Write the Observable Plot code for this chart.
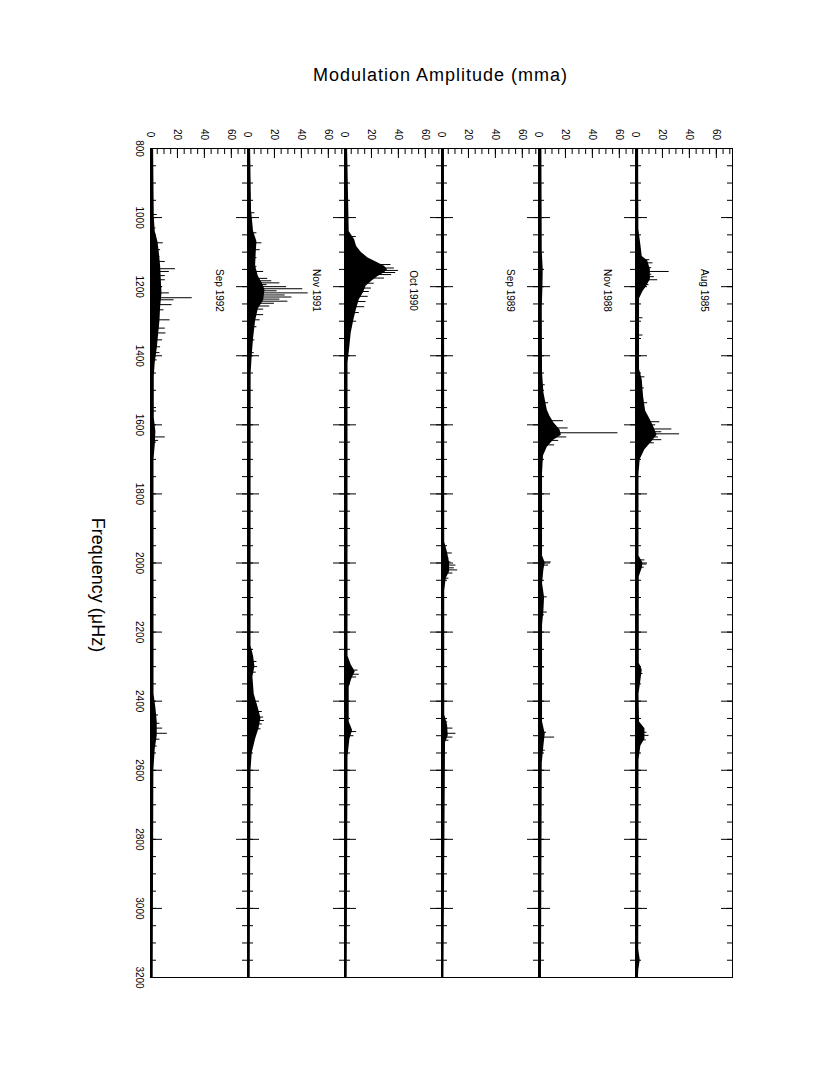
<!DOCTYPE html>
<html><head><meta charset="utf-8">
<script src="https://cdn.jsdelivr.net/npm/d3@7"></script>
<script src="https://cdn.jsdelivr.net/npm/@observablehq/plot@0.6"></script>
<style>
body{margin:0;background:#fff;font-family:"Liberation Sans",Arial,sans-serif;}
#title{height:100px;width:585px;margin-left:148px;box-sizing:border-box;padding-top:64px;text-align:center;font-size:18px;letter-spacing:1px;line-height:22px;color:#000;}
#chart svg{display:block;}
</style></head><body>
<div id="title">Modulation Amplitude (mma)</div>
<div id="chart"></div>
<script>
// Panels, left to right
const panels = ["Sep 1992", "Nov 1991", "Oct 1990", "Sep 1989", "Nov 1988", "Aug 1985"];

// Frequency ticks (μHz) and amplitude ticks (mma)
const freqTicks = [800, 1000, 1200, 1400, 1600, 1800, 2000, 2200, 2400, 2600, 2800, 3000, 3200];
const ampTicks = [0, 20, 40, 60];

// Each panel: dense envelope [frequency μHz, amplitude mma] and individual spikes
const envSep1992 = [[800,2.3],[1000,2.8],[1040,3.5],[1070,5.5],[1100,6.5],[1140,7.5],[1180,8],[1220,8.5],[1260,7.5],[1300,7],[1340,6],[1380,5],[1420,3.5],[1460,2.8],[1580,2.8],[1620,4],[1660,3.5],[1700,2.6],[2380,2.6],[2420,4],[2460,5],[2500,5],[2540,3.5],[2600,2.5],[3200,2.0]];
const spkSep1992 = [[991,5],[1030,4],[1073,9.5],[1093,7.5],[1113,7],[1127,11],[1148,18.5],[1156,14],[1168,11],[1180,11],[1200,9],[1218,14],[1232,31],[1238,17.5],[1252,16],[1267,10],[1296,14.5],[1320,11],[1334,11.5],[1354,9],[1374,7.5],[1391,7],[1412,5],[1560,4.5],[1635,11],[1645,6],[2440,6],[2464,7],[2478,9],[2493,12.5],[2510,7],[2530,5]];

const envNov1991 = [[800,2.3],[980,3],[1040,4.5],[1070,7],[1100,6.5],[1140,6],[1170,8],[1190,11],[1210,13],[1240,12],[1265,8],[1300,6],[1350,4.5],[1400,3.5],[1450,2.7],[2240,2.6],[2270,4.5],[2300,5.5],[2330,4],[2380,5],[2420,8],[2450,10],[2480,8.5],[2510,6],[2550,3.5],[2600,2.6],[3200,2.0]];
const spkNov1991 = [[986,5.5],[1044,7],[1073,10.7],[1093,9.4],[1116,7],[1141,7],[1156,12],[1176,15],[1183,18],[1189,24],[1194,14.5],[1200,29],[1206,41],[1212,22],[1218,45],[1224,28],[1230,33],[1236,24],[1242,30],[1248,20],[1256,16.5],[1265,12],[1281,12],[1296,9.4],[1316,7],[1354,5.5],[1391,5],[2285,7],[2300,7.5],[2316,6.5],[2430,11],[2446,12],[2456,12.5],[2466,11],[2480,10]];

const envOct1990 = [[800,2.3],[1040,3.5],[1064,7.5],[1084,9],[1101,12.5],[1117,17.5],[1131,24.6],[1141,29.7],[1151,32],[1160,29.7],[1171,24.6],[1185,20],[1199,16],[1218,14],[1238,11],[1267,8.8],[1296,7],[1334,5],[1383,3.7],[1420,2.6],[2270,2.6],[2295,5],[2315,8],[2335,5.5],[2360,3.5],[2460,3.5],[2485,6],[2510,4],[2560,2.6],[3200,2.0]];
const spkOct1990 = [[1055,8.8],[1136,34.5],[1146,37],[1153,40],[1159,38],[1165,35],[1175,29.7],[1190,22],[1204,20],[1214,18.4],[1228,17.6],[1243,16],[1258,15],[1275,11],[1300,9],[2310,10],[2322,11],[2330,9],[2488,9],[2500,7]];

const envSep1989 = [[800,2.2],[1940,2.4],[1970,4.5],[2000,6],[2025,6],[2045,3.5],[2080,2.4],[2440,2.4],[2470,4.5],[2500,5],[2520,3],[3200,1.8]];
const spkSep1989 = [[1971,8],[1986,5.5],[1997,7],[2006,10.7],[2014,9.5],[2020,12],[2029,8.5],[2044,5.5],[2460,4.6],[2478,8.5],[2493,10.7],[2504,8.5],[2513,5.5]];

const envNov1988 = [[800,2.5],[1100,2.8],[1150,3.5],[1200,3.3],[1260,2.8],[1450,3],[1507,4],[1557,6.5],[1575,8.5],[1595,11.5],[1615,16],[1630,17],[1645,11],[1665,6.5],[1690,3.7],[1740,3],[1980,3],[2000,5],[2020,4],[2060,3],[2100,4.5],[2140,4],[2180,3],[2460,3],[2495,5],[2530,4],[2580,2.8],[3200,2.2]];
const spkNov1988 = [[1484,5],[1536,7.5],[1588,18.5],[1609,22],[1623,59],[1635,21],[1645,15],[1658,12],[1997,9.5],[2006,7.5],[2098,6.5],[2142,6.5],[2301,4.5],[2490,6],[2504,12],[2542,5]];

const envAug1985 = [[800,2.3],[1035,2.5],[1080,4],[1113,5],[1125,9],[1150,11],[1180,11],[1200,8],[1215,5.5],[1235,3],[1440,3],[1470,5],[1519,6],[1560,7.5],[1585,11],[1610,14],[1630,16],[1650,12],[1672,7],[1700,3.5],[1740,2.6],[1980,2.6],[2000,5.5],[2015,5],[2040,2.8],[2290,2.8],[2310,5],[2340,4],[2380,2.6],[2460,3],[2480,7],[2510,7],[2530,4],[2570,2.6],[3120,2.4],[3150,3.5],[3180,2.4],[3200,2.2]];
const spkAug1985 = [[1122,10.6],[1131,13],[1145,12],[1156,25],[1164,12],[1171,14],[1180,16.5],[1194,10],[1290,5.5],[1340,5.5],[1461,7],[1493,6.5],[1536,9],[1591,18],[1600,15],[1612,27],[1620,19.5],[1626,32.7],[1635,17],[1643,19.5],[1652,14],[1991,7],[2003,8.5],[2012,6.5],[2320,5.5],[2490,8.5],[2499,10],[2512,8]];

const envelopes = [envSep1992, envNov1991, envOct1990, envSep1989, envNov1988, envAug1985];
const spikes = [spkSep1992, spkNov1991, spkOct1990, spkSep1989, spkNov1988, spkAug1985];

const envRows = panels.flatMap((p, i) => envelopes[i].map(([f, a]) => ({panel: p, f, a})));
const spkRows = panels.flatMap((p, i) => spikes[i].map(([f, a]) => ({panel: p, f, a})));

const minorFreq = d3.range(800, 3201, 50);
const minorAmp = d3.range(0, 72, 5);

const chart = Plot.plot({
  width: 830,
  height: 975,
  marginTop: 48,
  marginBottom: 98,
  marginLeft: 148,
  marginRight: 97,
  style: {fontFamily: "'Liberation Sans', Arial, sans-serif", fontSize: "10px", color: "black", background: "white"},
  fx: {domain: panels, padding: 0, axis: null},
  x: {domain: [0, 72], axis: null},
  y: {domain: [800, 3200], reverse: true, axis: null},
  marks: [
    Plot.frame({stroke: "black", strokeWidth: 1}),
    // inward ticks on both edges of every panel
    Plot.axisY({anchor: "left", ticks: minorFreq, tickSize: -6, fill: "none", facetAnchor: null}),
    Plot.axisY({anchor: "right", ticks: minorFreq, tickSize: -6, fill: "none", facetAnchor: null}),
    Plot.axisY({anchor: "left", ticks: freqTicks, tickSize: -12, fill: "none", facetAnchor: null}),
    Plot.axisY({anchor: "right", ticks: freqTicks, tickSize: -12, fill: "none", facetAnchor: null}),
    // frequency labels on the far left
    Plot.axisY({anchor: "left", ticks: freqTicks, tickSize: 0, tickPadding: 7, tickRotate: 90,
      textAnchor: "middle", lineAnchor: "top", tickFormat: "d", label: null, fontSize: 10}),
    // amplitude ticks along the top of each panel
    Plot.axisX({anchor: "top", ticks: minorAmp, tickSize: -5, fill: "none", facetAnchor: null}),
    Plot.axisX({anchor: "top", ticks: ampTicks, tickSize: -9, fill: "none", facetAnchor: null}),
    Plot.axisX({anchor: "top", ticks: ampTicks, tickSize: 0, tickPadding: 14, tickRotate: 90,
      textAnchor: "middle", lineAnchor: "middle", tickFormat: "d", label: null, facetAnchor: null, fontSize: 10}),
    // spectra
    Plot.areaX(envRows, {fx: "panel", y: "f", x: "a", fill: "black", curve: "linear"}),
    Plot.ruleY(spkRows, {fx: "panel", y: "f", x1: 0, x2: "a", stroke: "black", strokeWidth: 1}),
    // panel labels
    Plot.text(panels, {fx: d => d, text: d => d, frameAnchor: "top-right", dx: -28, dy: 142,
      rotate: 90, textAnchor: "middle", lineAnchor: "middle", fontSize: 10, fill: "black"}),
    // frequency axis title
    Plot.text([{panel: panels[0], t: "Frequency (μHz)"}], {fx: "panel", text: "t", frameAnchor: "left",
      dx: -53, dy: 22, rotate: 90, textAnchor: "middle", lineAnchor: "middle", fontSize: 18, fill: "black"})
  ]
});
document.getElementById("chart").appendChild(chart);
</script></body></html>
